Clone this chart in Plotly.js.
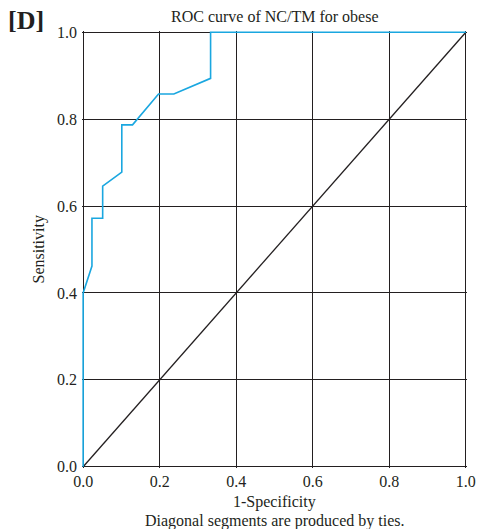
<!DOCTYPE html>
<html>
<head>
<meta charset="utf-8">
<script src="https://cdn.plot.ly/plotly-3.0.1.min.js"></script>
<style>html,body{margin:0;padding:0;background:#fff;}#chart{width:477px;height:529px;}</style>
</head>
<body>
<div id="chart"></div>
<script>
const rocX = [0, 0, 0.023, 0.023, 0.051, 0.051, 0.101, 0.101, 0.129, 0.197, 0.237, 0.333, 0.333, 1.0];
const rocY = [0, 0.4, 0.462, 0.572, 0.572, 0.646, 0.678, 0.787, 0.787, 0.858, 0.858, 0.894, 1.0, 1.0];
const refX = [0, 1];
const refY = [0, 1];
const tickVals = [0, 0.2, 0.4, 0.6, 0.8, 1.0];
const tickText = ["0.0", "0.2", "0.4", "0.6", "0.8", "1.0"];

const font = {family: "Liberation Serif, Times New Roman, serif", color: "#231f20", size: 16};

const data = [
  {x: refX, y: refY, mode: "lines", line: {color: "#231f20", width: 1.3}, hoverinfo: "skip"},
  {x: rocX, y: rocY, mode: "lines", line: {color: "#1aa7e0", width: 1.6}, hoverinfo: "skip"}
];

const axisCommon = {
  range: [-0.003, 1.003], tickvals: tickVals, ticktext: tickText,
  showgrid: true, gridcolor: "#231f20", gridwidth: 1,
  zeroline: false, showline: false,
  ticks: "", tickfont: font, fixedrange: true
};

const layout = {
  width: 477, height: 529,
  margin: {l: 82, r: 10, t: 31, b: 61},
  paper_bgcolor: "#fff", plot_bgcolor: "#fff",
  showlegend: false,
  font: font,
  xaxis: Object.assign({}, axisCommon, {ticklabelstandoff: 2}),
  yaxis: Object.assign({}, axisCommon, {ticklabelstandoff: 4}),
  annotations: [
    {text: "ROC curve of NC/TM for obese", xref: "paper", yref: "paper", x: 0.5, y: 1, yanchor: "bottom", yshift: 4, showarrow: false, font: font},
    {text: "<b>[D]</b>", xref: "paper", yref: "paper", x: 0, y: 1, xanchor: "left", yanchor: "bottom", xshift: -76, yshift: -6, showarrow: false, font: {family: font.family, size: 26, color: "#231f20"}},
    {text: "Sensitivity", xref: "paper", yref: "paper", x: 0, y: 0.5, xanchor: "center", yanchor: "middle", xshift: -44, textangle: -90, showarrow: false, font: font},
    {text: "1-Specificity", xref: "paper", yref: "paper", x: 0.5, y: 0, yanchor: "middle", yshift: -34, showarrow: false, font: font},
    {text: "Diagonal segments are produced by ties.", xref: "paper", yref: "paper", x: 0.5, y: 0, yanchor: "middle", yshift: -53, showarrow: false, font: font}
  ]
};

Plotly.newPlot("chart", data, layout, {displayModeBar: false, staticPlot: true});
</script>
</body>
</html>
